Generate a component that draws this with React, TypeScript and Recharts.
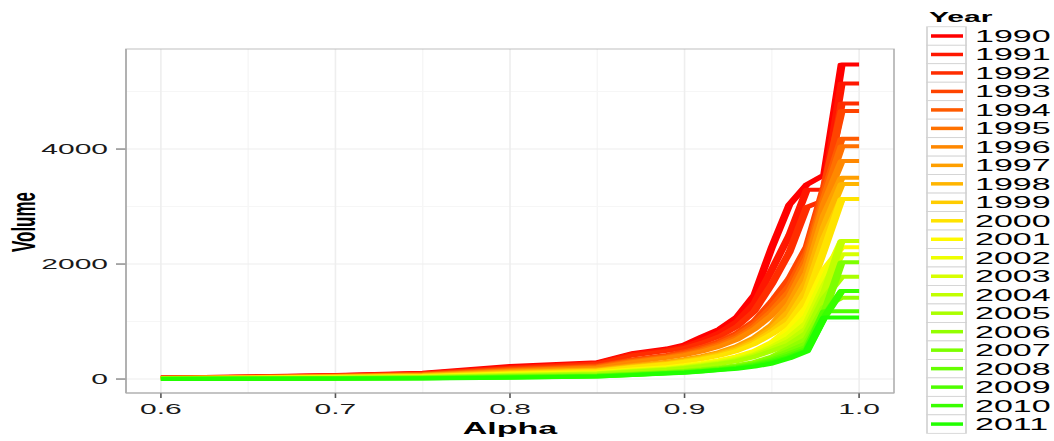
import React from 'react';
import { LineChart, Line, XAxis, YAxis, ReferenceLine } from 'recharts';

const alphas = [0.6, 0.65, 0.7, 0.75, 0.8, 0.85, 0.87, 0.89, 0.9, 0.91, 0.92, 0.93, 0.94, 0.95, 0.96, 0.97, 0.98, 0.99, 1.0];

const years = ['1990', '1991', '1992', '1993', '1994', '1995', '1996', '1997', '1998', '1999', '2000',
  '2001', '2002', '2003', '2004', '2005', '2006', '2007', '2008', '2009', '2010', '2011'];

const v1990 = [26, 45, 70, 110, 225, 290, 450, 530, 600, 740, 870, 1080, 1460, 2290, 3030, 3380, 3550, 5470, 5470];
const v1991 = [25, 43, 66, 102, 205, 280, 435, 510, 570, 680, 810, 1000, 1320, 1900, 2500, 3290, 3290, 5140, 5140];
const v1992 = [24, 41, 62, 96, 190, 265, 410, 490, 540, 630, 740, 910, 1180, 1650, 2200, 2990, 3110, 4790, 4790];
const v1993 = [22, 38, 58, 90, 178, 235, 340, 420, 480, 560, 660, 800, 1010, 1350, 1750, 2300, 3350, 4660, 4660];
const v1994 = [21, 36, 55, 85, 165, 222, 325, 400, 455, 530, 625, 760, 960, 1260, 1620, 2200, 3250, 4180, 4180];
const v1995 = [20, 34, 52, 80, 152, 210, 310, 385, 435, 505, 595, 720, 910, 1180, 1520, 2100, 3150, 4050, 4050];
const v1996 = [18, 32, 48, 75, 142, 198, 295, 370, 415, 480, 565, 685, 865, 1110, 1420, 2000, 3050, 3790, 3790];
const v1997 = [17, 30, 45, 70, 132, 170, 240, 300, 345, 400, 470, 570, 720, 940, 1300, 1850, 2850, 3500, 3500];
const v1998 = [15, 28, 42, 65, 122, 160, 228, 285, 330, 380, 448, 540, 680, 880, 1180, 1700, 2650, 3390, 3390];
const v1999 = [14, 25, 38, 58, 110, 150, 216, 272, 315, 362, 425, 512, 645, 830, 1070, 1550, 2450, 3130, 3130];
const v2000 = [12, 22, 34, 52, 100, 140, 204, 260, 300, 345, 405, 488, 610, 780, 980, 1400, 2250, 3130, 3130];
const v2001 = [11, 20, 30, 46, 90, 118, 165, 205, 240, 280, 330, 395, 490, 640, 880, 1250, 1900, 2290, 2290];
const v2002 = [10, 18, 27, 42, 82, 110, 155, 192, 225, 262, 310, 372, 460, 600, 800, 1100, 1750, 2400, 2400];
const v2003 = [9, 16, 24, 38, 74, 102, 145, 180, 212, 248, 292, 350, 432, 560, 720, 980, 1620, 2170, 2170];
const v2004 = [8, 14, 21, 34, 66, 95, 135, 170, 200, 235, 276, 330, 408, 525, 660, 880, 1500, 2400, 2400];
const v2005 = [7, 12, 19, 30, 58, 88, 125, 160, 190, 222, 262, 312, 385, 490, 600, 800, 1400, 1780, 1780];
const v2006 = [6, 10, 16, 26, 50, 70, 95, 125, 145, 170, 200, 240, 295, 390, 540, 700, 1250, 1414, 1414];
const v2007 = [5, 9, 14, 22, 44, 63, 88, 117, 137, 160, 188, 225, 278, 365, 490, 620, 1150, 2030, 2030];
const v2008 = [4, 8, 12, 18, 38, 57, 82, 110, 128, 150, 178, 212, 262, 340, 445, 560, 1100, 1530, 1530];
const v2009 = [3, 6, 10, 15, 32, 51, 76, 104, 120, 142, 168, 200, 248, 318, 410, 520, 1180, 1180, 1180];
const v2010 = [2, 5, 8, 12, 27, 46, 72, 99, 114, 136, 160, 190, 232, 295, 380, 495, 1070, 1530, 1530];
const v2011 = [0, 3, 6, 9, 22, 42, 68, 95, 110, 130, 155, 180, 215, 270, 360, 480, 1070, 1070, 1070];

const seriesValues = [v1990, v1991, v1992, v1993, v1994, v1995, v1996, v1997, v1998, v1999, v2000,
  v2001, v2002, v2003, v2004, v2005, v2006, v2007, v2008, v2009, v2010, v2011];

const colors = ['#FF0000', '#FF1700', '#FF2D00', '#FF4400', '#FF5B00', '#FF7100', '#FF8800', '#FF9F00',
  '#FFB500', '#FFCC00', '#FFE300', '#FFF900', '#EEFF00', '#D7FF00', '#C1FF00', '#AAFF00', '#93FF00',
  '#7DFF00', '#66FF00', '#4FFF00', '#39FF00', '#22FF00'];

const xTicks = [0.6, 0.7, 0.8, 0.9, 1.0];
const xMinor = [0.65, 0.75, 0.85, 0.95];
const yTicks = [0, 2000, 4000];
const yMinor = [1000, 3000, 5000];

const FONT = '"Liberation Sans", Arial, Helvetica, sans-serif';

const data = alphas.map((a, j) => {
  const row: Record<string, number> = { alpha: a };
  years.forEach((y, i) => {
    row['y' + y] = seriesValues[i][j];
  });
  return row;
});

// chart is drawn at half width and stretched 2x horizontally, like the reference
const W = 527;
const H = 441;
const M = { top: 49, right: 80, bottom: 0, left: 0 };
const YW = 63;
const XH = 48;

export default function App() {
  const panelL = M.left + YW;
  const panelR = W - M.right;
  const panelT = M.top;
  const panelB = H - M.bottom - XH;
  const rowH = 18.48;
  return (
    <div
      style={{
        position: 'absolute',
        left: 0,
        top: 0,
        width: W,
        height: H,
        background: '#ffffff',
        transform: 'scale(2,1)',
        transformOrigin: '0 0',
      }}
    >
      <LineChart width={W} height={H} data={data} margin={M}>
        {xMinor.map((v) => (
          <ReferenceLine key={'xm' + v} x={v} stroke="#F6F6F6" strokeWidth={0.7} />
        ))}
        {yMinor.map((v) => (
          <ReferenceLine key={'ym' + v} y={v} stroke="#F6F6F6" strokeWidth={1} />
        ))}
        {xTicks.map((v) => (
          <ReferenceLine key={'xM' + v} x={v} stroke="#EEEEEE" strokeWidth={0.8} />
        ))}
        {yTicks.map((v) => (
          <ReferenceLine key={'yM' + v} y={v} stroke="#EEEEEE" strokeWidth={1} />
        ))}
        <XAxis
          dataKey="alpha"
          type="number"
          domain={[0.58, 1.02]}
          ticks={xTicks}
          allowDataOverflow
          tickFormatter={(v: number) => v.toFixed(1)}
          height={XH}
          tickSize={5}
          tickMargin={5}
          axisLine={{ stroke: '#A6A6A6', strokeWidth: 1 }}
          tickLine={{ stroke: '#555555', strokeWidth: 0.8 }}
          tick={{ fontSize: 15, fill: '#1A1A1A', fontFamily: FONT }}
        />
        <YAxis
          type="number"
          domain={[-243, 5740]}
          ticks={yTicks}
          allowDataOverflow
          width={YW}
          tickSize={5}
          tickMargin={4}
          axisLine={{ stroke: '#A6A6A6', strokeWidth: 0.8 }}
          tickLine={{ stroke: '#555555', strokeWidth: 1 }}
          tick={{ fontSize: 15, fill: '#1A1A1A', fontFamily: FONT }}
        />
        {years.map((y, i) => (
          <Line
            key={y}
            type="linear"
            dataKey={'y' + y}
            name={y}
            stroke={colors[i]}
            strokeWidth={4}
            strokeLinejoin="round"
            dot={false}
            activeDot={false}
            isAnimationActive={false}
          />
        ))}
      </LineChart>
      <svg
        width={W}
        height={H}
        style={{ position: 'absolute', left: 0, top: 0, pointerEvents: 'none' }}
      >
        <rect
          x={panelL}
          y={panelT}
          width={panelR - panelL}
          height={panelB - panelT}
          fill="none"
          stroke="#B0B0B0"
          strokeWidth={0.8}
        />
        <text
          x={(panelL + panelR) / 2}
          y={434}
          textAnchor="middle"
          fontFamily={FONT}
          fontWeight="bold"
          fontSize={17}
          fill="#000"
        >
          Alpha
        </text>
        <text
          transform={`translate(11.8, ${(panelT + panelB) / 2 + 1}) rotate(-90)`}
          textAnchor="middle"
          dominantBaseline="central"
          fontFamily={FONT}
          fontWeight="bold"
          fontSize={17}
          fill="#000"
        >
          Volume
        </text>
        <text x={464.5} y={22} fontFamily={FONT} fontWeight="bold" fontSize={15} fill="#000">
          Year
        </text>
        {years.map((y, i) => {
          const cy = 36 + rowH * i;
          return (
            <g key={'lg' + y}>
              <rect
                x={463.5}
                y={cy - rowH / 2}
                width={19.5}
                height={rowH}
                fill="#ffffff"
                stroke="#D0D0D0"
                strokeWidth={0.8}
              />
              <line x1={465.5} x2={481.5} y1={cy} y2={cy} stroke={colors[i]} strokeWidth={3.5} />
              <text x={487.5} y={cy + 6} fontFamily={FONT} fontSize={17} fill="#000">
                {y}
              </text>
            </g>
          );
        })}
      </svg>
    </div>
  );
}
